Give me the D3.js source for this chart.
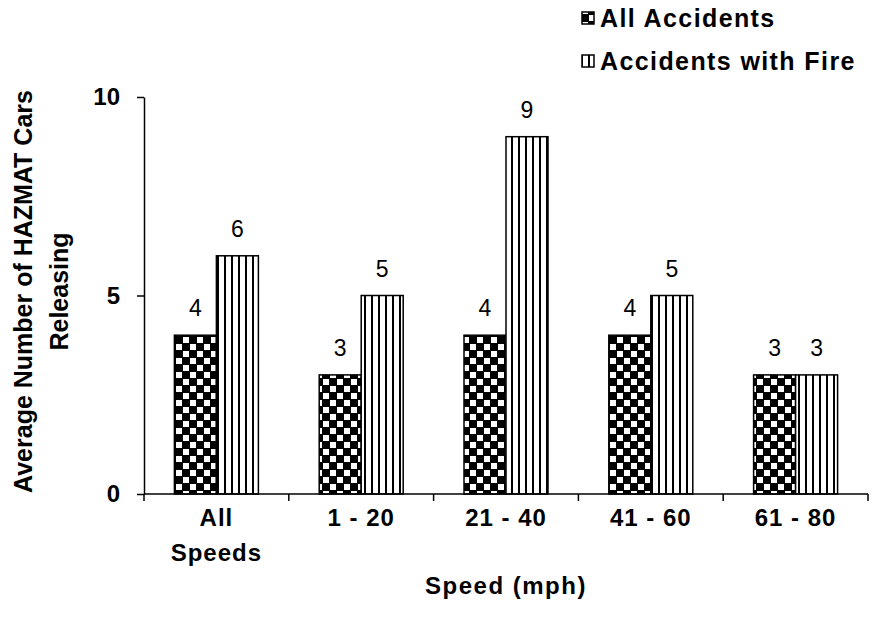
<!DOCTYPE html>
<html>
<head>
<meta charset="utf-8">
<script src="https://cdn.jsdelivr.net/npm/d3@7"></script>
<style>
  html, body { margin: 0; padding: 0; background: #fff; }
  svg { display: block; }
  text { font-family: "Liberation Sans", Arial, sans-serif; fill: #000; }
</style>
</head>
<body>
<svg id="chart" width="879" height="623"></svg>
<script>
const categories = [["All", "Speeds"], ["1 - 20"], ["21 - 40"], ["41 - 60"], ["61 - 80"]];
const seriesNames = ["All Accidents", "Accidents with Fire"];
const allAccidents = [4, 3, 4, 4, 3];
const accidentsWithFire = [6, 5, 9, 5, 3];
const yTicks = [0, 5, 10];
const xTitle = "Speed (mph)";
const yTitleLines = ["Average Number of HAZMAT Cars", "Releasing"];

const svg = d3.select("#chart");
const defs = svg.append("defs");

const chk = defs.append("pattern").attr("id", "checker")
  .attr("patternUnits", "userSpaceOnUse").attr("width", 14).attr("height", 14);
chk.append("rect").attr("width", 14).attr("height", 14).attr("fill", "#000");
chk.append("rect").attr("x", 1).attr("y", 1).attr("width", 6).attr("height", 6).attr("fill", "#fff");
chk.append("rect").attr("x", 8).attr("y", 8).attr("width", 6).attr("height", 6).attr("fill", "#fff");

const str = defs.append("pattern").attr("id", "stripes")
  .attr("patternUnits", "userSpaceOnUse").attr("width", 7).attr("height", 10);
str.append("rect").attr("width", 7).attr("height", 10).attr("fill", "#fff");
str.append("rect").attr("x", 0).attr("width", 2).attr("height", 10).attr("fill", "#000");

const fills = ["url(#checker)", "url(#stripes)"];

const W = 879, H = 623;
const plotLeft = 144, plotRight = 868, yTop = 97, yBottom = 494;
const x0 = d3.scaleBand().domain(d3.range(categories.length))
  .range([plotLeft, plotRight]).paddingInner(0.42).paddingOuter(0.21);
const x1 = d3.scaleBand().domain([0, 1]).range([0, x0.bandwidth()]);
const y = d3.scaleLinear().domain([0, 10]).range([yBottom, yTop]);

const data = categories.map((c, i) => [allAccidents[i], accidentsWithFire[i]]);

const g = svg.append("g");
data.forEach((vals, i) => {
  vals.forEach((v, s) => {
    g.append("rect")
      .attr("x", x0(i) + x1(s))
      .attr("y", y(v))
      .attr("width", x1.bandwidth())
      .attr("height", y(0) - y(v))
      .attr("fill", fills[s])
      .attr("stroke", "#000")
      .attr("stroke-width", 1.5);
    g.append("text")
      .attr("x", x0(i) + x1(s) + x1.bandwidth() / 2)
      .attr("y", y(v) - 19)
      .attr("text-anchor", "middle")
      .attr("font-size", 23)
      .text(v);
  });
});

// y axis
const yAxis = d3.axisLeft(y).tickValues(yTicks).tickSize(7).tickPadding(17).tickSizeOuter(0);
const ya = svg.append("g").attr("transform", `translate(${plotLeft},0)`).call(yAxis);
ya.select(".domain").attr("stroke", "#000").attr("stroke-width", 1.5);
ya.selectAll(".tick line").attr("stroke", "#000").attr("stroke-width", 1.5);
ya.selectAll(".tick text").attr("font-size", 24).attr("font-weight", "bold")
  .attr("font-family", "Liberation Sans, Arial, sans-serif");

// x axis line with boundary ticks
const xBase = y(0);
svg.append("line").attr("x1", plotLeft).attr("x2", plotRight)
  .attr("y1", xBase).attr("y2", xBase).attr("stroke", "#000").attr("stroke-width", 1.5);
const boundaries = d3.range(categories.length + 1).map(i => plotLeft + i * (plotRight - plotLeft) / categories.length);
svg.selectAll(".xb").data(boundaries).enter().append("line")
  .attr("x1", d => d).attr("x2", d => d)
  .attr("y1", xBase).attr("y2", xBase + 7)
  .attr("stroke", "#000").attr("stroke-width", 1.5);

// x labels
categories.forEach((lines, i) => {
  const cx = x0(i) + x0.bandwidth() / 2;
  const t = svg.append("text")
    .attr("x", cx).attr("y", xBase + 32)
    .attr("text-anchor", "middle")
    .attr("font-size", 24).attr("font-weight", "bold").attr("letter-spacing", 1);
  lines.forEach((ln, k) => {
    t.append("tspan").attr("x", cx).attr("dy", k === 0 ? 0 : 35).text(ln);
  });
});

// x title
svg.append("text").attr("x", 506).attr("y", xBase + 100)
  .attr("text-anchor", "middle").attr("font-size", 24).attr("font-weight", "bold")
  .attr("letter-spacing", 1.5).text(xTitle);

// y title
const yt = svg.append("text")
  .attr("transform", `translate(32,${(yTop + yBottom) / 2 - 4}) rotate(-90)`)
  .attr("text-anchor", "middle").attr("font-size", 25).attr("font-weight", "bold");
yTitleLines.forEach((ln, k) => {
  yt.append("tspan").attr("x", 0).attr("dy", k === 0 ? 0 : 36).text(ln);
});

// legend
const leg = svg.append("g");
seriesNames.forEach((name, s) => {
  const ly = 18 + s * 43;
  leg.append("rect").attr("x", 582).attr("y", ly - 6).attr("width", 12).attr("height", 12)
    .attr("fill", fills[s]).attr("stroke", "#000").attr("stroke-width", 1.5);
  leg.append("text").attr("x", 600).attr("y", ly + 9)
    .attr("font-size", 25).attr("font-weight", "bold").attr("letter-spacing", 1.4).text(name);
});
</script>
</body>
</html>
